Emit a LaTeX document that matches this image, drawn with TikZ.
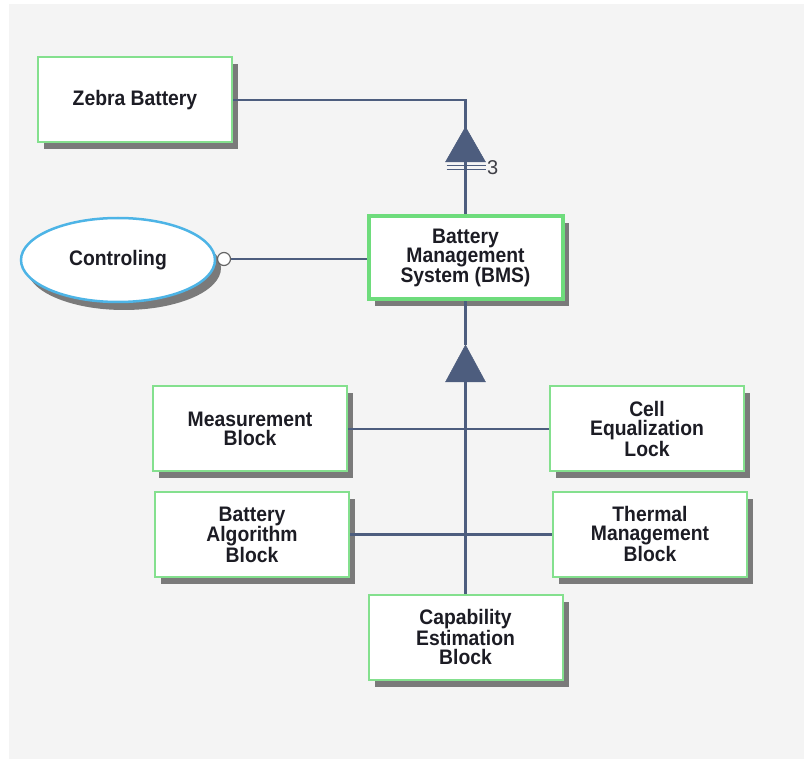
\documentclass[tikz,border=0pt]{standalone}
\usepackage{fontspec}
\usetikzlibrary{shapes.geometric,shadows,calc}
\newfontfamily\lblfont{Liberation Sans Bold}[FakeStretch=0.92]
\newfontfamily\numfont{Liberation Sans}
\definecolor{pagegray}{HTML}{F4F4F4}
\definecolor{boxgreen}{HTML}{84E08E}
\definecolor{bmsgreen}{HTML}{6EDC7C}
\definecolor{ovalblue}{HTML}{4DB4E6}
\definecolor{linkblue}{HTML}{4D5D7E}
\definecolor{shade}{HTML}{7A7A7A}
\definecolor{inkdark}{HTML}{1C1C24}
\tikzset{
  blockbox/.style={rectangle, draw=boxgreen, line width=2pt, fill=white,
    minimum width=194pt, minimum height=85pt, inner sep=0pt, align=center,
    text=inkdark, font=\lblfont\fontsize{21}{19}\selectfont,
    drop shadow={shadow xshift=6pt, shadow yshift=-7pt, fill=shade, opacity=1}},
  mainbox/.style={blockbox, draw=bmsgreen, line width=4pt,
    minimum width=194pt, minimum height=83pt},
  usecase/.style={ellipse, draw=ovalblue, line width=2.5pt, fill=white,
    minimum width=194pt, minimum height=84pt, inner sep=0pt,
    text=inkdark, font=\lblfont\fontsize{21}{19}\selectfont,
    drop shadow={shadow xshift=6pt, shadow yshift=-8pt, fill=shade, opacity=1}},
  portdot/.style={circle, draw=gray!80!black, line width=1.2pt, fill=white,
    minimum size=13pt, inner sep=0pt},
  link/.style={draw=linkblue, line width=2.4pt},
  genhead/.style={fill=linkblue, draw=linkblue, line width=0.5pt, line join=miter},
}
\begin{document}
\begin{tikzpicture}[x=1pt, y=-1pt]
  % canvas
  \useasboundingbox (0,0) rectangle (804,759);
  \fill[white] (0,0) rectangle (804,759);
  \fill[pagegray] (9,4) rectangle (804,759);

  % blocks
  \node[blockbox] (zebra) at (135,100) {Zebra Battery};
  \node[usecase] (ctrl) at (118,260) {Controling};
  \node[mainbox] (bms) at (465.5,258) {Battery\\Management\\System (BMS)};
  \node[blockbox] (meas) at (250,429) {Measurement\\Block};
  \node[blockbox] (cell) at (647,429) {Cell\\Equalization\\Lock};
  \node[blockbox] (balg) at (252,534.5) {Battery\\Algorithm\\Block};
  \node[blockbox] (therm) at (650,534) {Thermal\\Management\\Block};
  \node[blockbox] (cap) at (465.5,637) {Capability\\Estimation\\Block};

  % provided interface of the controller
  \node[portdot] (port) at (224,259) {};
  \path[link] (port.east) -- (bms.west |- port.east);

  % composition of the battery: BMS with multiplicity 3
  \coordinate (apexA) at (465.5,127);
  \coordinate (baseA) at (465.5,162);
  \path[link] (zebra.east) -| (bms.north);
  \fill[genhead] (apexA) -- ($(baseA)+(20,0)$) -- ($(baseA)+(-20,0)$) -- cycle;
  \draw[linkblue, line width=1.6pt] ($(baseA)+(-19,3.5)$) -- ($(baseA)+(20,3.5)$);
  \draw[linkblue, line width=1.6pt] ($(baseA)+(-19,7.5)$) -- ($(baseA)+(20,7.5)$);
  \node[font=\numfont\fontsize{20}{20}\selectfont, text=inkdark!85, anchor=west, inner sep=0pt]
    (mult) at (487,168) {3};

  % sub-blocks of the BMS
  \coordinate (apexB) at (465.5,345);
  \coordinate (baseB) at (465.5,382);
  \path[link] (bms.south) -- (apexB);
  \path[link] (cap.north) -- (baseB);
  \path[link] (meas.east) -- (meas.east -| cell.west);
  \path[link] (balg.east) -- (balg.east -| therm.west);
  \fill[genhead] (apexB) -- ($(baseB)+(20,0)$) -- ($(baseB)+(-20,0)$) -- cycle;
\end{tikzpicture}
\end{document}
